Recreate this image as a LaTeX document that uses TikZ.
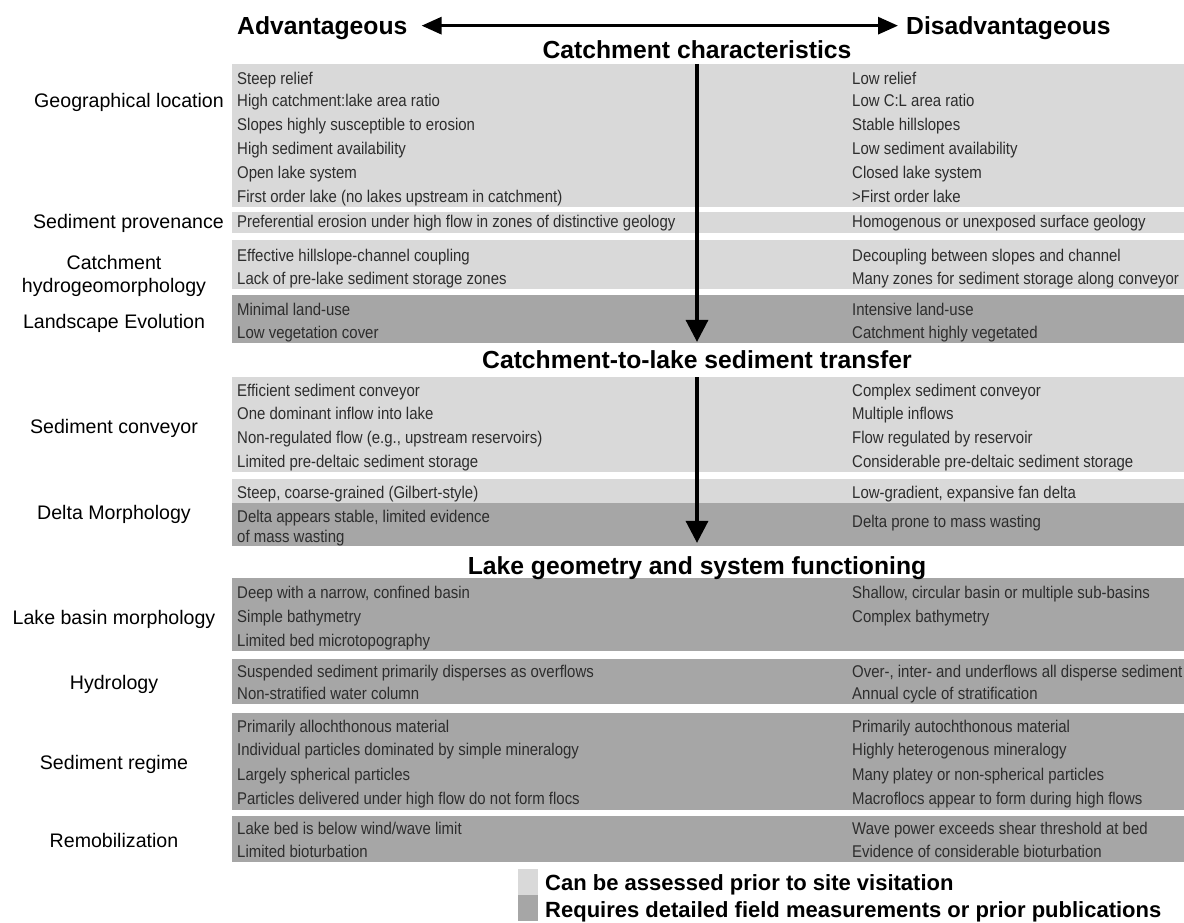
\documentclass[tikz,border=0pt]{standalone}
\usepackage{fontspec}
\setmainfont{Liberation Sans}
\newfontfamily\narrowfont{Liberation Sans}[FakeStretch=0.88]
\usetikzlibrary{arrows.meta}
\definecolor{lightband}{RGB}{217,217,217}
\definecolor{darkband}{RGB}{166,166,166}
\definecolor{itemtext}{RGB}{45,45,45}
\tikzset{
  item/.style={anchor=base west, inner sep=0pt, yshift=-5.5pt, text=itemtext,
    font=\narrowfont\fontsize{17}{20}\selectfont},
  catlabel/.style={anchor=base, inner sep=0pt, yshift=-7pt,
    font=\fontsize{19.6}{23}\selectfont},
  headtext/.style={anchor=base, inner sep=0pt, yshift=-9pt,
    font=\bfseries\fontsize{24.7}{28}\selectfont},
  legendtext/.style={anchor=base west, inner sep=0pt, yshift=-7.5pt,
    font=\bfseries\fontsize{22}{25}\selectfont},
  harrow/.style={{Triangle[length=20pt,width=17pt]}-{Triangle[length=20pt,width=17pt]}, line width=3pt},
  varrow/.style={-{Triangle[length=22pt,width=22pt]}, line width=3.5pt}
}
\begin{document}
\begin{tikzpicture}[x=1pt,y=-1pt]
\useasboundingbox (0,0) rectangle (1184,923);
\foreach \t/\b/\c in {64/207/lightband, 212/233/lightband, 240/289/lightband,
    295/343/darkband, 377/472/lightband, 479/503/lightband, 503/546/darkband,
    578/651/darkband, 659/704/darkband, 713/810/darkband, 816/862/darkband}
  \fill[\c] (232,\t) rectangle (1184,\b);

\node[headtext, anchor=base west] (advhead) at (237,26) {Advantageous};
\node[headtext, anchor=base west] (disadvhead) at (906,26) {Disadvantageous};
\draw[harrow, shorten <=14pt, shorten >=8pt] ([yshift=3pt]advhead.east) -- ([yshift=3pt]disadvhead.west);

\node[headtext] (title1) at (697,50) {Catchment characteristics};
\node[headtext] (title2) at (697,359) {Catchment-to-lake sediment transfer};
\node[headtext] (title3) at (697,565) {Lake geometry and system functioning};

\node[catlabel, anchor=base east] (geoloc) at (224,101) {Geographical location};
\node[catlabel, anchor=base east] (sedprov) at (224,222) {Sediment provenance};
\node[catlabel, anchor=center, yshift=0pt, align=center] (hydrogeo) at (114,269) {Catchment\\hydrogeomorphology};
\node[catlabel] (landevo) at (114,321) {Landscape Evolution};
\node[catlabel] (sedconv) at (114,426) {Sediment conveyor};
\node[catlabel] (deltamorph) at (114,512) {Delta Morphology};
\node[catlabel] (basinmorph) at (114,617) {Lake basin morphology};
\node[catlabel] (hydro) at (114,682) {Hydrology};
\node[catlabel] (sedreg) at (114,762) {Sediment regime};
\node[catlabel] (remob) at (114,840) {Remobilization};

\foreach \y/\t in {79/Steep relief, 101/High catchment:lake area ratio,
    125/Slopes highly susceptible to erosion, 149/High sediment availability,
    173/Open lake system, 197/First order lake (no lakes upstream in catchment),
    222/Preferential erosion under high flow in zones of distinctive geology,
    256/Effective hillslope-channel coupling, 279/Lack of pre-lake sediment storage zones,
    310/Minimal land-use, 333/Low vegetation cover,
    391/Efficient sediment conveyor, 414/One dominant inflow into lake,
    438/{Non-regulated flow (e.g., upstream reservoirs)}, 462/Limited pre-deltaic sediment storage,
    493/{Steep, coarse-grained (Gilbert-style)}, 517/{Delta appears stable, limited evidence},
    537/of mass wasting,
    593/{Deep with a narrow, confined basin}, 617/Simple bathymetry,
    641/Limited bed microtopography,
    672/Suspended sediment primarily disperses as overflows, 694/Non-stratified water column,
    727/Primarily allochthonous material, 750/Individual particles dominated by simple mineralogy,
    775/Largely spherical particles, 799/Particles delivered under high flow do not form flocs,
    829/{Lake bed is below wind/wave limit}, 852/Limited bioturbation}
  \node[item] (pro\y) at (237,\y) {\t};

\foreach \y/\t in {79/Low relief, 101/Low C:L area ratio, 125/Stable hillslopes,
    149/Low sediment availability, 173/Closed lake system, 197/>First order lake,
    222/Homogenous or unexposed surface geology,
    256/Decoupling between slopes and channel, 279/Many zones for sediment storage along conveyor,
    310/Intensive land-use, 333/Catchment highly vegetated,
    391/Complex sediment conveyor, 414/Multiple inflows, 438/Flow regulated by reservoir,
    462/Considerable pre-deltaic sediment storage,
    493/{Low-gradient, expansive fan delta}, 522/Delta prone to mass wasting,
    593/{Shallow, circular basin or multiple sub-basins}, 617/Complex bathymetry,
    672/{Over-, inter- and underflows all disperse sediment}, 694/Annual cycle of stratification,
    727/Primarily autochthonous material, 750/Highly heterogenous mineralogy,
    775/Many platey or non-spherical particles, 799/Macroflocs appear to form during high flows,
    829/Wave power exceeds shear threshold at bed, 852/Evidence of considerable bioturbation}
  \node[item] (con\y) at (852,\y) {\t};

\coordinate (arrtop1) at (697,64);
\coordinate (arrtop2) at (697,377);
\draw[varrow, shorten >=8pt] (arrtop1) -- (title2.north);
\draw[varrow, shorten >=13pt] (arrtop2) -- (title3.north);

\fill[lightband] (518,869) rectangle (538,895);
\fill[darkband] (518,895) rectangle (538,921);
\node[legendtext] (legprior) at (545,883) {Can be assessed prior to site visitation};
\node[legendtext] (legfield) at (545,910) {Requires detailed field measurements or prior publications};
\end{tikzpicture}
\end{document}
